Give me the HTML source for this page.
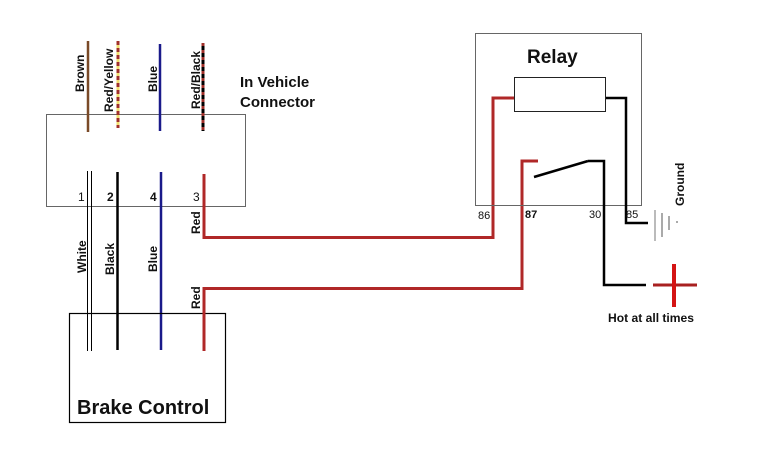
<!DOCTYPE html>
<html><head><meta charset="utf-8"><style>
html,body{margin:0;padding:0;background:#fff;}
svg{display:block;}
text{font-family:"Liberation Sans",Arial,sans-serif;}
</style></head><body>
<svg width="777" height="459" viewBox="0 0 777 459" xmlns="http://www.w3.org/2000/svg">
<rect x="0" y="0" width="777" height="459" fill="#fff"/>
<!-- connector box -->
<rect x="46.5" y="114.5" width="199" height="92" fill="none" stroke="#666" stroke-width="1"/>
<!-- top wires -->
<line x1="88" y1="41" x2="88" y2="132" stroke="#7a4a28" stroke-width="2.5"/>
<line x1="118" y1="41" x2="118" y2="128" stroke="#f2e070" stroke-width="3"/>
<line x1="118" y1="41" x2="118" y2="128" stroke="#a0302a" stroke-width="3" stroke-dasharray="4 3"/>
<line x1="160" y1="44" x2="160" y2="131" stroke="#1a1a8a" stroke-width="2.5"/>
<line x1="203" y1="43" x2="203" y2="131" stroke="#a0302a" stroke-width="3"/>
<line x1="203" y1="43" x2="203" y2="131" stroke="#000" stroke-width="3" stroke-dasharray="4 3" stroke-dashoffset="-3"/>
<g font-size="12" font-weight="bold" fill="#111">
<text transform="translate(84,92) rotate(-90)">Brown</text>
<text transform="translate(113,112) rotate(-90)">Red/Yellow</text>
<text transform="translate(157,92) rotate(-90)">Blue</text>
<text transform="translate(200,109) rotate(-90)">Red/Black</text>
</g>
<g font-size="15" font-weight="bold" fill="#111">
<text x="240" y="87">In Vehicle</text>
<text x="240" y="107">Connector</text>
</g>
<!-- lower wires -->
<line x1="87.5" y1="171" x2="87.5" y2="351" stroke="#000" stroke-width="1"/>
<line x1="91.5" y1="171" x2="91.5" y2="351" stroke="#000" stroke-width="1"/>
<line x1="117.5" y1="172" x2="117.5" y2="350" stroke="#000" stroke-width="2.5"/>
<line x1="161" y1="172" x2="161" y2="350" stroke="#1a1a8a" stroke-width="2.5"/>
<g font-size="12" fill="#111">
<text x="78" y="201">1</text>
<text x="107" y="201" font-weight="bold">2</text>
<text x="150" y="201" font-weight="bold">4</text>
<text x="193" y="201">3</text>
</g>
<g font-size="12" font-weight="bold" fill="#111">
<text transform="translate(86,273) rotate(-90)">White</text>
<text transform="translate(114,275) rotate(-90)">Black</text>
<text transform="translate(157,272) rotate(-90)">Blue</text>
<text transform="translate(200,234) rotate(-90)">Red</text>
<text transform="translate(200,309) rotate(-90)">Red</text>
</g>
<!-- brake control box -->
<rect x="69.5" y="313.5" width="156" height="109" fill="none" stroke="#000" stroke-width="1.2"/>
<text x="77" y="414" font-size="20" font-weight="bold" fill="#111">Brake Control</text>
<!-- red wires -->
<polyline points="204,174 204,237.5 493,237.5 493,98 515,98" fill="none" stroke="#b02828" stroke-width="3"/>
<polyline points="204,351 204,288.5 522,288.5 522,161 538,161" fill="none" stroke="#b02828" stroke-width="3"/>
<!-- relay -->
<rect x="475.5" y="33.5" width="166" height="172" fill="none" stroke="#666" stroke-width="1"/>
<text x="527" y="63" font-size="19" font-weight="bold" fill="#111">Relay</text>
<rect x="514.5" y="77.5" width="91" height="34" fill="#fff" stroke="#222" stroke-width="1"/>
<polyline points="606,98 626,98 626,223 648,223" fill="none" stroke="#000" stroke-width="2.5"/>
<line x1="534" y1="177" x2="588" y2="161" stroke="#000" stroke-width="2.5"/>
<polyline points="588,161 604,161 604,285 646,285" fill="none" stroke="#000" stroke-width="2.5"/>
<g font-size="11" fill="#111">
<text x="478" y="219">86</text>
<text x="525" y="218" font-weight="bold">87</text>
<text x="589" y="218">30</text>
<text x="626" y="218">85</text>
</g>
<!-- ground -->
<line x1="655" y1="210" x2="655" y2="241" stroke="#777" stroke-width="1"/>
<line x1="662" y1="213" x2="662" y2="237" stroke="#555" stroke-width="1"/>
<line x1="669" y1="216" x2="669" y2="230" stroke="#555" stroke-width="1"/>
<line x1="677" y1="221" x2="677" y2="223" stroke="#555" stroke-width="1"/>
<text transform="translate(684,206) rotate(-90)" font-size="12" font-weight="bold" fill="#111">Ground</text>
<!-- plus -->
<line x1="653" y1="285" x2="697" y2="285" stroke="#a82020" stroke-width="3"/>
<line x1="674" y1="264" x2="674" y2="307" stroke="#d41414" stroke-width="4"/>
<text x="608" y="322" font-size="12" font-weight="bold" fill="#111" textLength="86" lengthAdjust="spacingAndGlyphs">Hot at all times</text>
</svg>
</body></html>
